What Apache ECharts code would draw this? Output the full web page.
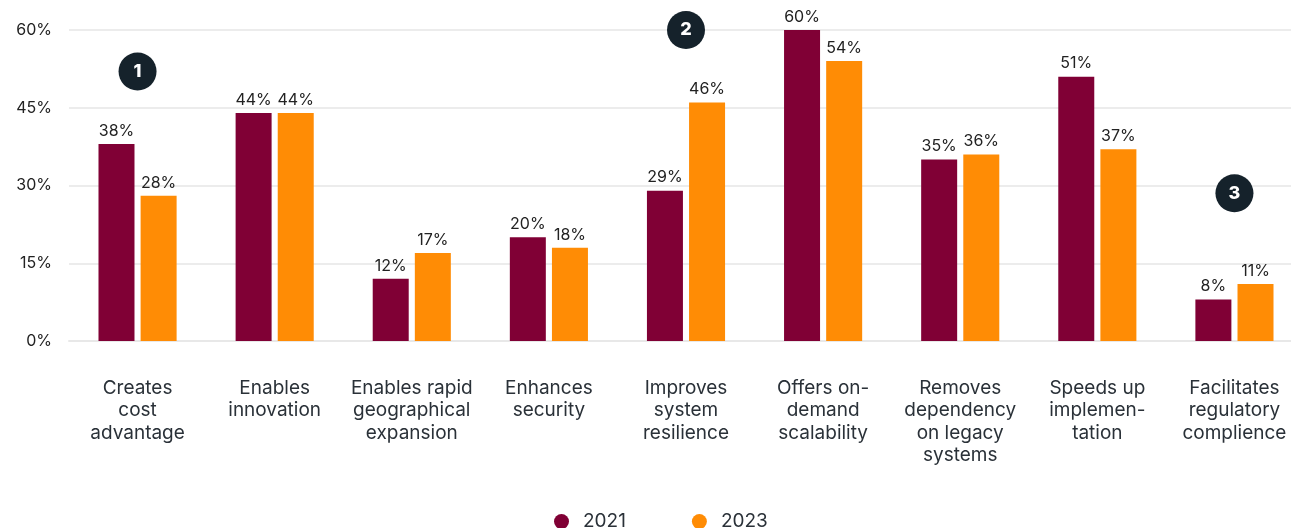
<!DOCTYPE html>
<html>
<head>
<meta charset="utf-8">
<script src="https://cdn.jsdelivr.net/npm/echarts@6/dist/echarts.min.js"></script>
<style>
  html, body { margin: 0; padding: 0; background: #ffffff; }
  #chart { width: 1291px; height: 528px; }
</style>
</head>
<body>
<div id="chart"></div>
<script>
// Reasons for cloud adoption, share of respondents by survey year
const categories = [
  'Creates\ncost\nadvantage',
  'Enables\ninnovation',
  'Enables rapid\ngeographical\nexpansion',
  'Enhances\nsecurity',
  'Improves\nsystem\nresilience',
  'Offers on-\ndemand\nscalability',
  'Removes\ndependency\non legacy\nsystems',
  'Speeds up\nimplemen-\ntation',
  'Facilitates\nregulatory\ncomplience'
];
const values2021 = [38, 44, 12, 20, 29, 60, 35, 51, 8];
const values2023 = [28, 44, 17, 18, 46, 54, 36, 37, 11];
const yTicks = [0, 15, 30, 45, 60];

// Numbered callouts: [category index, value height, number]
const callouts = [
  [0, 52, '1'],
  [4, 60, '2'],
  [8, 28.5, '3']
];

const FONT = 'Inter, "Noto Sans", sans-serif';
const TEXT = '#2a3138';

const chart = echarts.init(document.getElementById('chart'), null, { renderer: 'canvas' });

const barLabel = {
  show: true,
  position: 'top',
  distance: 5,
  formatter: '{c}%',
  fontFamily: FONT,
  fontSize: 16,
  color: '#222222'
};

chart.setOption({
  animation: false,
  backgroundColor: '#ffffff',
  textStyle: { fontFamily: FONT },
  // plot area runs a little past the right edge of the page
  grid: {
    left: 69, width: 1234, top: 30, height: 311,
    containLabel: false,
    outerBoundsMode: 'none'
  },
  legend: {
    data: ['2021', '2023'],
    top: 507,
    left: 549,
    icon: 'circle',
    itemWidth: 15,
    itemHeight: 15,
    itemGap: 66,
    textStyle: { fontFamily: FONT, fontSize: 19, color: TEXT, padding: [0, 0, 0, 9] }
  },
  xAxis: {
    type: 'category',
    data: categories,
    axisTick: { show: false },
    axisLine: { show: true, lineStyle: { color: '#e8e8e8', width: 2 } },
    axisLabel: {
      interval: 0,
      margin: 36,
      fontFamily: FONT,
      fontSize: 19,
      lineHeight: 22.5,
      color: TEXT,
      align: 'center'
    }
  },
  yAxis: {
    type: 'value',
    min: yTicks[0],
    max: yTicks[yTicks.length - 1],
    interval: yTicks[1] - yTicks[0],
    axisLine: { show: false },
    axisTick: { show: false },
    axisLabel: {
      formatter: '{value}%',
      margin: 17,
      fontFamily: FONT,
      fontSize: 16,
      color: '#222222'
    },
    splitLine: { lineStyle: { color: '#ececec', width: 2 } }
  },
  series: [
    {
      name: '2021',
      type: 'bar',
      data: values2021,
      barWidth: 36,
      barGap: '17%',
      itemStyle: { color: '#800035' },
      label: barLabel
    },
    {
      name: '2023',
      type: 'bar',
      data: values2023,
      barWidth: 36,
      barGap: '17%',
      itemStyle: { color: '#ff8c05' },
      label: barLabel
    },
    {
      name: 'callouts',
      type: 'scatter',
      data: callouts.map(c => ({ value: [c[0], c[1]], name: c[2] })),
      symbol: 'circle',
      symbolSize: 38,
      z: 5,
      itemStyle: { color: '#15222b', opacity: 1 },
      label: {
        show: true,
        position: 'inside',
        formatter: p => p.name,
        fontFamily: FONT,
        fontSize: 18,
        fontWeight: 800,
        color: '#ffffff'
      },
      emphasis: { disabled: true }
    }
  ]
});
</script>
</body>
</html>
